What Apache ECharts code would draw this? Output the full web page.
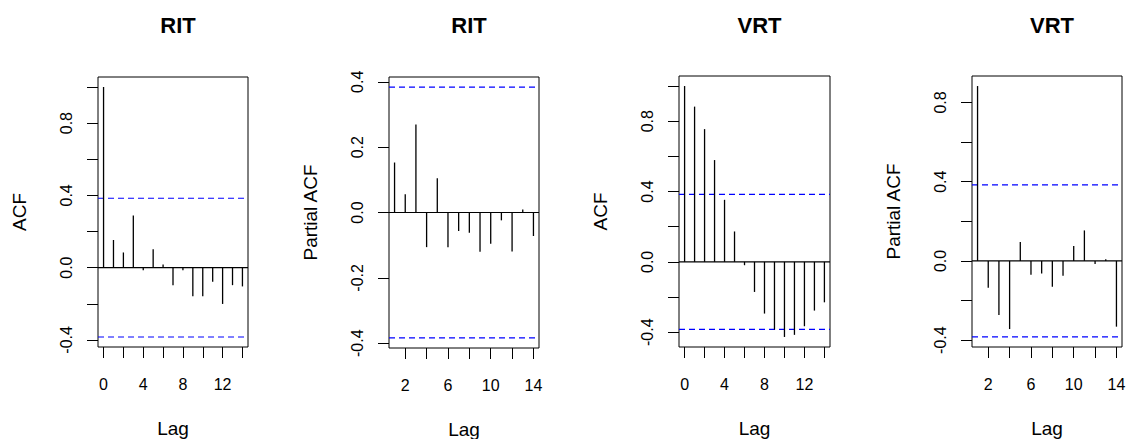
<!DOCTYPE html>
<html>
<head>
<meta charset="utf-8">
<title>ACF / PACF — RIT and VRT</title>
<script src="https://cdn.jsdelivr.net/npm/echarts@6/dist/echarts.min.js"></script>
<style>
  html, body { margin: 0; padding: 0; background: #fff; }
  #chart { width: 1130px; height: 439px; }
</style>
</head>
<body>
<div id="chart"></div>
<script>
// Lags
const lagsAcf = [0, 1, 2, 3, 4, 5, 6, 7, 8, 9, 10, 11, 12, 13, 14];
const lagsPacf = [1, 2, 3, 4, 5, 6, 7, 8, 9, 10, 11, 12, 13, 14];

// Autocorrelations (lag 0..14) and partial autocorrelations (lag 1..14)
const ritAcf = [1.0, 0.153, 0.084, 0.289, -0.015, 0.102, 0.017, -0.097, -0.015, -0.158, -0.158, -0.078, -0.201, -0.097, -0.104];
const ritPacf = [0.153, 0.056, 0.269, -0.106, 0.105, -0.106, -0.057, -0.062, -0.120, -0.096, -0.024, -0.119, 0.009, -0.072];
const vrtAcf = [1.0, 0.883, 0.755, 0.579, 0.353, 0.173, -0.019, -0.171, -0.294, -0.385, -0.427, -0.415, -0.366, -0.277, -0.230];
const vrtPacf = [0.883, -0.136, -0.273, -0.344, 0.096, -0.070, -0.064, -0.131, -0.075, 0.075, 0.154, -0.015, 0.008, -0.332];

// 95% significance bound
const confLimit = 0.384;

// Tick positions and the subset that gets a label
const yTicksAcf = [-0.4, -0.2, 0.0, 0.2, 0.4, 0.6, 0.8, 1.0];
const yLabelsAcf = [-0.4, 0.0, 0.4, 0.8];
const yTicksRitPacf = [-0.4, -0.2, 0.0, 0.2, 0.4];
const yLabelsRitPacf = [-0.4, -0.2, 0.0, 0.2, 0.4];
const yTicksVrtPacf = [-0.4, -0.2, 0.0, 0.2, 0.4, 0.6, 0.8];
const yLabelsVrtPacf = [-0.4, 0.0, 0.4, 0.8];
const xTicksAcf = [0, 2, 4, 6, 8, 10, 12, 14];
const xLabelsAcf = [0, 4, 8, 12];
const xTicksPacf = [2, 4, 6, 8, 10, 12, 14];
const xLabelsPacf = [2, 6, 10, 14];

const panels = [
  { title: 'RIT', yName: 'ACF', lags: lagsAcf, values: ritAcf, yTicks: yTicksAcf, yLabels: yLabelsAcf, xTicks: xTicksAcf, xLabels: xLabelsAcf, left: 98, top: 77, width: 150, height: 270 },
  { title: 'RIT', yName: 'Partial ACF', lags: lagsPacf, values: ritPacf, yTicks: yTicksRitPacf, yLabels: yLabelsRitPacf, xTicks: xTicksPacf, xLabels: xLabelsPacf, left: 389, top: 77, width: 150, height: 271 },
  { title: 'VRT', yName: 'ACF', lags: lagsAcf, values: vrtAcf, yTicks: yTicksAcf, yLabels: yLabelsAcf, xTicks: xTicksAcf, xLabels: xLabelsAcf, left: 679, top: 76, width: 151, height: 271 },
  { title: 'VRT', yName: 'Partial ACF', lags: lagsPacf, values: vrtPacf, yTicks: yTicksVrtPacf, yLabels: yLabelsVrtPacf, xTicks: xTicksPacf, xLabels: xLabelsPacf, left: 972, top: 76, width: 150, height: 271 }
];

const FONT = '"Liberation Sans", Arial, sans-serif';

// Axis range padded by 4% on each side
function paddedRange(lo, hi) {
  const pad = (hi - lo) * 0.04;
  return [lo - pad, hi + pad];
}

// Horizontal reference lines: kind 0 = zero line, kind 1 = significance bound
const refLines = [[0, 0], [1, confLimit], [1, -confLimit]];

const grid = [], xAxis = [], yAxis = [], series = [], title = [];

panels.forEach((p, i) => {
  const xr = paddedRange(p.lags[0], p.lags[p.lags.length - 1]);
  const yr = paddedRange(Math.min(-confLimit, ...p.values), Math.max(confLimit, ...p.values));

  grid.push({
    left: p.left, top: p.top, width: p.width, height: p.height,
    outerBoundsMode: 'none', containLabel: false,
    show: true, borderColor: '#000', borderWidth: 1, backgroundColor: 'transparent'
  });

  title.push({
    text: p.title,
    left: p.left + p.width / 2,
    top: 9,
    textAlign: 'center',
    textStyle: { fontFamily: FONT, fontSize: 22, fontWeight: 'bold', color: '#000' }
  });

  xAxis.push({
    type: 'value', gridIndex: i, min: xr[0], max: xr[1],
    name: 'Lag', nameLocation: 'middle', nameGap: 72,
    nameTextStyle: { fontFamily: FONT, fontSize: 19, color: '#000' },
    axisLine: { show: false, onZero: false },
    splitLine: { show: false },
    axisTick: { show: true, inside: false, length: 11, customValues: p.xTicks, lineStyle: { color: '#000', width: 1 } },
    axisLabel: { show: true, customValues: p.xLabels, margin: 29, fontFamily: FONT, fontSize: 16, color: '#000' }
  });

  yAxis.push({
    type: 'value', gridIndex: i, min: yr[0], max: yr[1],
    name: p.yName, nameLocation: 'middle', nameGap: 69,
    nameTextStyle: { fontFamily: FONT, fontSize: 19, color: '#000' },
    axisLine: { show: false, onZero: false },
    splitLine: { show: false },
    axisTick: { show: true, inside: false, length: 11, customValues: p.yTicks, lineStyle: { color: '#000', width: 1 } },
    axisLabel: {
      show: true, customValues: p.yLabels, rotate: 90, margin: 24,
      fontFamily: FONT, fontSize: 16, color: '#000',
      formatter: v => v.toFixed(1)
    }
  });

  // Zero line and dashed significance bounds across the plot region
  series.push({
    type: 'custom',
    xAxisIndex: i, yAxisIndex: i,
    silent: true,
    data: refLines,
    renderItem: (params, api) => {
      const cs = params.coordSys;
      const y = api.coord([xr[0], api.value(1)])[1];
      const isBound = api.value(0) === 1;
      return {
        type: 'line',
        shape: { x1: cs.x, y1: y, x2: cs.x + cs.width, y2: y },
        style: isBound
          ? { stroke: '#0000ff', lineWidth: 1.2, lineDash: [6, 4] }
          : { stroke: '#000', lineWidth: 1.2 }
      };
    }
  });

  // Vertical spikes from zero to each coefficient
  series.push({
    type: 'custom',
    xAxisIndex: i, yAxisIndex: i,
    silent: true,
    data: p.lags.map((lag, k) => [lag, p.values[k]]),
    renderItem: (params, api) => {
      const base = api.coord([api.value(0), 0]);
      const tip = api.coord([api.value(0), api.value(1)]);
      return {
        type: 'line',
        shape: { x1: base[0], y1: base[1], x2: tip[0], y2: tip[1] },
        style: { stroke: '#000', lineWidth: 1.3 }
      };
    }
  });
});

const chart = echarts.init(document.getElementById('chart'), null, { renderer: 'svg' });
chart.setOption({
  animation: false,
  backgroundColor: '#fff',
  title, grid, xAxis, yAxis, series
});
</script>
</body>
</html>
